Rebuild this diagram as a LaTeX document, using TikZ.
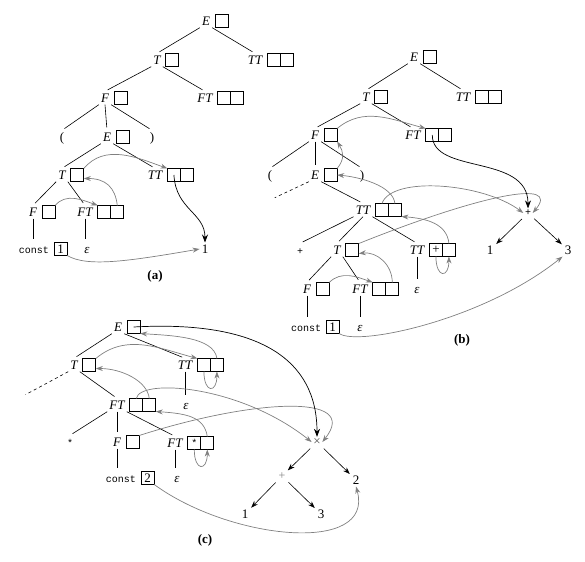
\documentclass[tikz,border=0pt]{standalone}
\usepackage{fontspec}
\setmainfont{Liberation Serif}
\setmonofont{Liberation Mono}
\usetikzlibrary{positioning,arrows.meta}

\newcommand\labfont{\fontsize{13}{13}\selectfont\itshape}
\newcommand\tokfont{\fontsize{10}{10}\selectfont\ttfamily}
\newcommand\numfont{\fontsize{13}{13}\selectfont}

\tikzset{
  lab/.style={font=\labfont, inner sep=2pt, text height=9pt, text depth=0pt},
  tok/.style={font=\tokfont, inner sep=2pt, text height=9pt, text depth=0pt},
  sym/.style={font=\tokfont, inner sep=1.5pt},
  num/.style={font=\numfont, inner sep=2pt},
  tag/.style={font=\fontsize{13}{13}\selectfont\bfseries},
  cell/.style={draw, line width=0.8pt, minimum size=13pt, inner sep=0pt, outer sep=0pt, font=\numfont},
  branch/.style={line width=0.6pt, shorten >=3pt},
  flow/.style={gray, line width=0.7pt, -{Stealth[length=7pt,width=5pt]}},
  ptr/.style={black, line width=0.7pt, -{Stealth[length=8pt,width=6pt]}},
  res/.style={line width=0.6pt, -{Stealth[length=7pt,width=5pt]}, shorten <=2pt, shorten >=1pt},
}

\begin{document}
\begin{tikzpicture}[x=1pt, y=-1pt, node distance=3pt]
\useasboundingbox (0,0) rectangle (585,561);

%% (a)
\node[lab] (aE) at (206,21) {E};
\node[cell, right=of aE] (aEb) {};
\node[lab] (aT) at (157,60) {T};
\node[cell, right=of aT] (aTb) {};
\node[lab] (aTT) at (255,60) {TT};
\node[cell, right=of aTT] (aTTb1) {};
\node[cell, right=0pt of aTTb1] (aTTb2) {};
\node[lab] (aF) at (105,98) {F};
\node[cell, right=of aF] (aFb) {};
\node[lab] (aFT) at (205,98) {FT};
\node[cell, right=of aFT] (aFTb1) {};
\node[cell, right=0pt of aFTb1] (aFTb2) {};
\node[lab] (aLp) at (62,137) {\upshape(};
\node[lab] (aE2) at (107,137) {E};
\node[cell, right=of aE2] (aE2b) {};
\node[lab] (aRp) at (152,137) {\upshape)};
\node[lab] (aT2) at (62,175) {T};
\node[cell, right=of aT2] (aT2b) {};
\node[lab] (aTT2) at (155,175) {TT};
\node[cell, right=of aTT2] (aTT2b1) {};
\node[cell, right=0pt of aTT2b1] (aTT2b2) {};
\node[lab] (aF2) at (33,212) {F};
\node[cell, right=of aF2] (aF2b) {};
\node[lab] (aFT2) at (85,212) {FT};
\node[cell, right=of aFT2] (aFT2b1) {};
\node[cell, right=0pt of aFT2b1] (aFT2b2) {};
\node[tok] (aconst) at (34,249) {const};
\node[cell, right=of aconst] (aconstb) {1};
\node[lab] (aeps) at (87,249) {ε};
\node[num] (aRes) at (205,249) {1};
\node[tag] (atag) at (155,276) {(a)};

\draw[branch] (aE.south west) -- (aT.north);
\draw[branch] (aE.south east) -- (aTT.north);
\draw[branch] (aT.south west) -- (aF.north);
\draw[branch] (aT.south east) -- (aFT.north);
\draw[branch] (aF.south west) -- (aLp.north);
\draw[branch] (aF.south) -- (aE2.north);
\draw[branch] (aF.south east) -- (aRp.north);
\draw[branch] (aE2.south west) -- (aT2.north);
\draw[branch] (aE2.south east) -- (aTT2.north);
\draw[branch] (aT2.south west) -- (aF2.north);
\draw[branch] (aT2.south east) -- (aFT2.north);
\draw[branch] (aF2.south) -- (aF2.south |- aconst.north);
\draw[branch] (aFT2.south) -- (aFT2.south |- aeps.north);

\draw[flow] (aT2b.north east) to[out=50,in=160] (aTT2b1.north west);
\draw[flow] (aF2b.north east) to[out=50,in=160] (aFT2b1.north west);
\draw[flow] (aFT2b2.north) .. controls +(-2,-18) and +(22,0) .. ([yshift=3pt]aT2b.south east);
\draw[flow] (aconstb.south east) .. controls +(20,12) and +(-70,12) .. (aRes.west);
\draw[ptr] (aTT2b1.center) .. controls +(2,35) and +(0,-30) .. (aRes.north);

%% (b)
\node[lab] (bE) at (414,57) {E};
\node[cell, right=of bE] (bEb) {};
\node[lab] (bT) at (366,97) {T};
\node[cell, right=of bT] (bTb) {};
\node[lab] (bTT) at (463,97) {TT};
\node[cell, right=of bTT] (bTTb1) {};
\node[cell, right=0pt of bTTb1] (bTTb2) {};
\node[lab] (bF) at (315,135) {F};
\node[cell, right=of bF] (bFb) {};
\node[lab] (bFT) at (413,135) {FT};
\node[cell, right=of bFT] (bFTb1) {};
\node[cell, right=0pt of bFTb1] (bFTb2) {};
\node[lab] (bLp) at (270,175) {\upshape(};
\node[lab] (bE2) at (315,175) {E};
\node[cell, right=of bE2] (bE2b) {};
\node[lab] (bRp) at (362,175) {\upshape)};
\node[lab] (bTT2) at (363,210) {TT};
\node[cell, right=of bTT2] (bTT2b1) {};
\node[cell, right=0pt of bTT2b1] (bTT2b2) {};
\node[tok] (bplus) at (300,250) {+};
\node[lab] (bT2) at (337,250) {T};
\node[cell, right=of bT2] (bT2b) {};
\node[lab] (bTT3) at (417,250) {TT};
\node[cell, right=of bTT3] (bTT3b1) {+};
\node[cell, right=0pt of bTT3b1] (bTT3b2) {};
\node[lab] (bF2) at (307,289) {F};
\node[cell, right=of bF2] (bF2b) {};
\node[lab] (bFT2) at (360,289) {FT};
\node[cell, right=of bFT2] (bFT2b1) {};
\node[cell, right=0pt of bFT2b1] (bFT2b2) {};
\node[lab] (beps1) at (417,289) {ε};
\node[tok] (bconst) at (306,327) {const};
\node[cell, right=of bconst] (bconstb) {1};
\node[lab] (beps2) at (360,327) {ε};
\node[sym] (bsum) at (528,213) {+};
\node[num] (bone) at (490,250) {1};
\node[num] (bthree) at (568,250) {3};
\node[tag] (btag) at (462,340) {(b)};
\coordinate (bcut) at (272,199);

\draw[branch] (bE.south west) -- (bT.north);
\draw[branch] (bE.south east) -- (bTT.north);
\draw[branch] (bT.south west) -- (bF.north);
\draw[branch] (bT.south east) -- (bFT.north);
\draw[branch] (bF.south west) -- (bLp.north);
\draw[branch] (bF.south) -- (bE2.north);
\draw[branch] (bF.south east) -- (bRp.north);
\draw[branch, dashed] (bE2.south west) -- (bcut);
\draw[branch] (bE2.south east) -- (bTT2.north);
\draw[branch] (bTT2.south west) -- (bplus.north);
\draw[branch] (bTT2.south) -- (bT2.north);
\draw[branch] (bTT2.south east) -- (bTT3.north);
\draw[branch] (bT2.south west) -- (bF2.north);
\draw[branch] (bT2.south east) -- (bFT2.north);
\draw[branch] (bTT3.south) -- (bTT3.south |- beps1.north);
\draw[branch] (bF2.south) -- (bF2.south |- bconst.north);
\draw[branch] (bFT2.south) -- (bFT2.south |- beps2.north);

\draw[flow] (bFb.north east) to[out=40,in=165] (bFTb1.north west);
\draw[flow] (bE2b.north east) .. controls +(8,-10) and +(6,10) .. (bFb.south east);
\draw[flow] (bTT2b1.north) .. controls +(10,-28) and +(-40,-30) .. (bsum.west);
\draw[flow] (bTT2b2.north) .. controls +(-2,-18) and +(22,2) .. (bE2b.east);
\draw[flow] (bT2b.north east) .. controls (480,195) and (562,178) .. (bsum.east);
\draw[flow] (bTT3b1.south) .. controls +(0,22) and +(0,22) .. (bTT3b2.south);
\draw[flow] (bTT3b2.north) .. controls +(-2,-20) and +(25,2) .. (bTT2b2.south east);
\draw[flow] (bF2b.north east) to[out=45,in=160] (bFT2b1.north west);
\draw[flow] (bFT2b2.north) .. controls +(0,-18) and +(18,-2) .. ([yshift=3pt]bT2b.south east);
\draw[flow] (bconstb.south east) .. controls +(18,13) and +(-80,64) .. (bthree.south west);
\draw[ptr] (bFTb1.center) .. controls +(0,40) and +(0,-55) .. (bsum.north);
\draw[res] (bsum) -- (bone);
\draw[res] (bsum) -- (bthree);

%% (c)
\node[lab] (cE) at (118,327) {E};
\node[cell, right=of cE] (cEb) {};
\node[lab] (cT) at (74,365) {T};
\node[cell, right=of cT] (cTb) {};
\node[lab] (cTT) at (185,365) {TT};
\node[cell, right=of cTT] (cTTb1) {};
\node[cell, right=0pt of cTTb1] (cTTb2) {};
\node[lab] (cFT) at (117,405) {FT};
\node[cell, right=of cFT] (cFTb1) {};
\node[cell, right=0pt of cFTb1] (cFTb2) {};
\node[lab] (ceps1) at (186,405) {ε};
\node[tok] (cstar) at (70,442) {*};
\node[lab] (cF) at (117,442) {F};
\node[cell, right=of cF] (cFb) {};
\node[lab] (cFT2) at (175,443) {FT};
\node[cell, right=of cFT2, font=\tokfont] (cFT2b1) {*};
\node[cell, right=0pt of cFT2b1] (cFT2b2) {};
\node[tok] (cconst) at (121,478) {const};
\node[cell, right=of cconst] (cconstb) {2};
\node[lab] (ceps2) at (177,478) {ε};
\node[sym, text=gray!60!black, font=\fontsize{13}{13}\selectfont] (ctimes) at (317,442) {×};
\node[sym, text=gray, font=\fontsize{12}{12}\selectfont] (cplus) at (282,476) {+};
\node[num] (ctwo) at (356,480) {2};
\node[num] (cone) at (245,514) {1};
\node[num] (cthree) at (321,514) {3};
\node[tag] (ctag) at (205,540) {(c)};
\coordinate (ccut) at (23,396);

\draw[branch] (cE.south west) -- (cT.north);
\draw[branch] (cE.south east) -- (cTT.north);
\draw[branch, dashed] (cT.south west) -- (ccut);
\draw[branch] (cT.south east) -- (cFT.north);
\draw[branch] (cTT.south) -- (cTT.south |- ceps1.north);
\draw[branch] (cFT.south west) -- (cstar.north);
\draw[branch] (cFT.south) -- (cF.north);
\draw[branch] (cFT.south east) -- (cFT2.north);
\draw[branch] (cF.south) -- (cF.south |- cconst.north);
\draw[branch] (cFT2.south) -- (cFT2.south |- ceps2.north);

\draw[flow] (cTb.north east) to[out=40,in=165] (cTTb1.north west);
\draw[flow] (cTTb2.north) .. controls +(-3,-22) and +(30,2) .. (cEb.south east);
\draw[flow] (cTTb1.south) .. controls +(0,22) and +(0,22) .. (cTTb2.south);
\draw[flow] (cFTb2.north) .. controls +(-2,-18) and +(25,0) .. ([yshift=3pt]cTb.south east);
\draw[flow] (cFTb1.north) .. controls (140,378) and (240,385) .. (ctimes.west);
\draw[flow] (cFb.north east) .. controls (250,400) and (362,392) .. (ctimes.east);
\draw[flow] (cFT2b1.south) .. controls +(0,22) and +(0,22) .. (cFT2b2.south);
\draw[flow] (cFT2b2.north) .. controls +(-3,-20) and +(30,2) .. (cFTb2.south east);
\draw[flow] (cconstb.south east) .. controls (230,540) and (375,555) .. (ctwo.south);
\draw[ptr] (cEb.center) .. controls (260,320) and (317,360) .. (ctimes.north);
\draw[res] (ctimes) -- (cplus);
\draw[res] (ctimes) -- (ctwo);
\draw[res] (cplus) -- (cone);
\draw[res] (cplus) -- (cthree);
\end{tikzpicture}
\end{document}
